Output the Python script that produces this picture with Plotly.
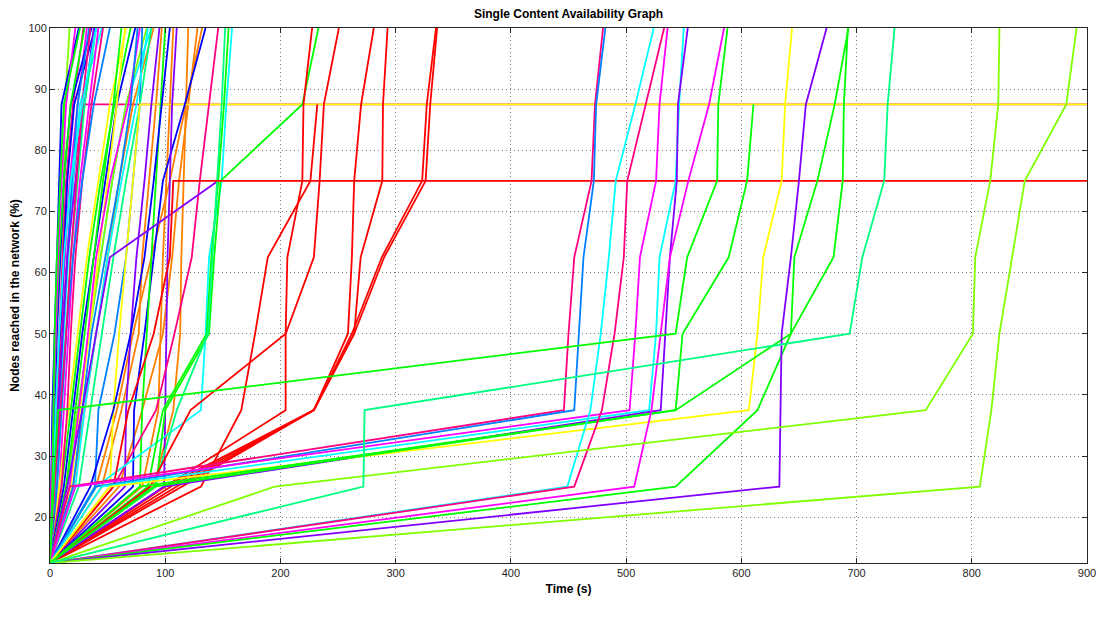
import plotly.graph_objects as go

# Levels of network coverage (%) reached in order by every content run
LEVELS = [12.5, 25, 37.5, 50, 62.5, 75, 87.5, 100]
END_TIME = 900  # runs that stop short of 100% are held flat until the end

X_TICKS = [0, 100, 200, 300, 400, 500, 600, 700, 800, 900]
Y_TICKS = [20, 30, 40, 50, 60, 70, 80, 90, 100]

# ---- time (s) at which each level was reached, one list per run ----
# fast runs on the left
s01 = [0, 3, 7, 10, 11, 12, 13, 17]
s02 = [0, 2, 5, 8, 11, 14, 20, 29]
s03 = [0, 3, 6, 9, 13, 17, 24, 32]
s04 = [0, 2, 4, 6, 9, 12, 18, 36]
s05 = [0, 4, 7, 9, 12, 15, 21, 39]
s06 = [0, 3, 6, 10, 15, 20, 29]          # held at 87.5
s07 = [0, 1, 3, 5, 8, 12, 18, 30]
s08 = [0, 5, 9, 12, 16, 20, 26, 45]
s09 = [0, 4, 8, 11, 15, 19, 24, 34]
s10 = [0, 3, 7, 11, 15, 22, 30, 38]
s11 = [0, 6, 10, 14, 18, 24, 30, 40]
s12 = [0, 8, 12, 16, 20, 26, 34, 42]
s13 = [0, 8, 16, 24, 32, 42, 52, 66]
s14 = [0, 10, 18, 26, 34, 44, 56, 70]
s15 = [0, 10, 15, 18, 22, 28, 36, 46]
s16 = [0, 15, 24, 34, 44, 54, 66, 88]
s17 = [0, 12, 20, 28, 38, 48, 58, 74]
s18 = [0, 14, 24, 34, 44, 54, 66, 84]
s19 = [0, 14, 22, 30, 38, 46, 55, 62]
s20 = [0, 18, 26, 34, 42, 50, 58, 65]
s21 = [0, 20, 30, 40, 50, 60, 72, 90]
s22 = [0, 17, 25, 33, 40, 52, 68, 78]
s23 = [0, 39, 42, 56, 66, 72, 78, 80]
s24 = [0, 20, 28, 36, 48, 60, 70, 76]
s25 = [0, 22, 30, 40, 50, 62, 75, 85]
s26 = [0, 25, 35, 45, 55, 66, 78, 88]
s27 = [0, 52, 55, 60, 66, 72, 78]         # held at 87.5
s28 = [0, 65, 66, 70, 75, 82, 88, 95]
s29 = [0, 72, 73, 82, 90, 98, 117, 135]
s30 = [0, 78, 80, 84, 88, 92, 96, 100]
s31 = [0, 45, 62, 77, 80, 86, 92, 97]
s32 = [0, 80, 94, 96, 98, 101, 104, 107]
s33 = [0, 90, 107, 113, 114, 116, 118, 120]
s34 = [0, 60, 80, 98, 106, 112, 120, 128]
s35 = [0, 40, 58, 72, 88, 104, 118, 132]
s36 = [0, 99, 100, 101, 102, 104, 106, 110]
s37 = [0, 35, 55, 70, 82, 90, 97, 104]
s38 = [0, 55, 92, 108, 123, 130, 138, 146]
s39 = [0, 15, 28, 40, 52, 146]           # stops at 75
s40 = [0, 40, 131, 135, 138, 149, 153, 158]
s41 = [0, 92, 100, 138, 142.5, 148, 219, 233]
s42 = [0, 85, 98, 136, 140, 146, 151, 155]
s43 = [0, 91, 110, 137, 141, 145, 149, 152]
s44 = [0, 55, 68, 90, 104, 107]          # held at 75
s45 = [0, 1, 2, 4, 6, 8, 10, 25]
s46 = [0, 1, 3, 5, 7, 10, 14, 22]
s47 = [0, 2, 3, 4, 6, 9, 12, 26]
s48 = [0, 6, 10, 14, 20, 28, 38, 52]
s49 = [0, 4, 9, 14, 18, 23, 28, 35]
s50 = [0, 3, 5, 8, 12, 18, 28, 40]
# red group (100 s - 340 s)
r01 = [0, 131, 166, 178, 189, 226, 232]   # stops at 87.5
r02 = [0, 100, 204.5, 204.5, 206, 219, 220, 227.5]
r03 = [0, 87, 122, 204.6, 229, 234, 237.7, 250.7]
r04 = [0, 105, 229, 258.6, 262, 264, 270, 281]
r05 = [0, 110, 229, 264, 269.6, 288.4, 289, 293]
r06 = [0, 100, 229, 262, 288, 323, 327, 335]
r07 = [0, 115, 229, 264, 290, 326, 330, 336]
# slow runs
m01 = [0, 17, 446, 450, 455, 470, 473, 480]
m02 = [0, 40, 455, 459, 463, 472, 474, 482]
m03 = [0, 22, 503, 508, 512, 526, 529, 536]
m04 = [0, 45, 520, 526, 529, 543, 546, 550]
m05 = [0, 99, 530, 534, 538, 544, 545, 553.5]
m06 = [0, 52, 606.5, 614, 619, 635, 638, 644]
m07 = [0, 78, 543, 549, 589, 605, 610.5]  # stops at 87.5
m08 = [0, 90, 543, 643, 680, 688, 689, 692.5]
m09 = [0, 449, 469, 478, 485, 491, 508, 524]
m10 = [0, 455, 479, 490, 498, 501, 517, 533]
m11 = [0, 507, 522, 530, 538, 554, 572, 585]
m12 = [0, 543, 614, 643, 646, 666, 681, 693]
m13 = [0, 633, 634, 635, 643, 650, 656, 674]
m14 = [0, 807, 817, 824, 835, 846, 882, 891]
m15 = [0, 195, 760, 801, 803, 816, 823, 824]
m16 = [0, 272, 273, 694, 705, 724, 727, 733]
m17 = [0, 3, 7, 543, 553, 579, 580, 588]

PALETTE = {
    "red": "#FF0000", "orange": "#FF8000", "yellow": "#FFFF00", "chart": "#80FF00",
    "green": "#00FF00", "spring": "#00FF80", "cyan": "#00FFFF", "dodger": "#0080FF",
    "blue": "#0000FF", "purple": "#8000FF", "magenta": "#FF00FF", "pink": "#FF0080",
}

# (run, colour, held-until-end)
RUNS = [
    (s34, "orange", False), (s35, "orange", False), (s31, "orange", False),
    (s32, "orange", False), (s33, "orange", False),
    (s01, "chart", False), (s02, "pink", False), (s03, "magenta", False),
    (s04, "blue", False), (s05, "blue", False), (s06, "pink", True),
    (s07, "green", False), (s08, "cyan", False), (s09, "dodger", False),
    (s10, "purple", False), (s11, "spring", False), (s12, "magenta", False),
    (s13, "yellow", False), (s14, "green", False), (s15, "pink", False),
    (s16, "cyan", False), (s17, "blue", False), (s18, "chart", False),
    (s19, "green", False), (s20, "yellow", False), (s21, "orange", False),
    (s22, "magenta", False), (s23, "dodger", False), (s24, "dodger", False),
    (s25, "cyan", False), (s26, "spring", False), (s27, "yellow", True),
    (s28, "purple", False), (s29, "blue", False), (s30, "green", False),
    (s36, "purple", False), (s37, "blue", False), (s38, "pink", False),
    (s39, "purple", False), (s40, "cyan", False), (s41, "green", False),
    (s42, "green", False), (s43, "spring", False), (s44, "red", True),
    (s45, "blue", False), (s46, "magenta", False), (s47, "green", False),
    (s48, "dodger", False), (s49, "pink", False), (s50, "cyan", False),
    (r01, "red", False), (r02, "red", False), (r03, "red", False),
    (r04, "red", False), (r05, "red", False), (r06, "red", False), (r07, "red", False),
    (m01, "pink", False), (m02, "dodger", False), (m03, "magenta", False),
    (m04, "cyan", False), (m05, "purple", False), (m06, "yellow", False),
    (m07, "green", False), (m08, "green", False), (m09, "cyan", False),
    (m10, "pink", False), (m11, "magenta", False), (m12, "green", False),
    (m13, "purple", False), (m14, "chart", False), (m15, "chart", False),
    (m16, "spring", False), (m17, "green", False),
]

fig = go.Figure()
for times, colour, held in RUNS:
    xs = list(times)
    ys = LEVELS[:len(times)]
    if held:
        xs = xs + [END_TIME]
        ys = ys + [ys[-1]]
    fig.add_trace(go.Scatter(
        x=xs, y=ys, mode="lines",
        line=dict(color=PALETTE[colour], width=1.8),
        showlegend=False, hoverinfo="skip",
    ))

FONT = "Liberation Sans, Arial, Helvetica, sans-serif"
axis_common = dict(
    showline=True, linecolor="#262626", linewidth=1, mirror="allticks",
    ticks="inside", ticklen=5, tickcolor="#262626", automargin=False,
    showgrid=True, gridcolor="#7a7a7a", griddash="1px,3px", gridwidth=1,
    zeroline=False, tickfont=dict(family=FONT, size=11, color="#262626"),
)

W, H = 1098, 630
L, R, T, B = 50, 11, 28, 67
fig.update_layout(
    width=W, height=H,
    margin=dict(l=L, r=R, t=T, b=B),
    paper_bgcolor="white", plot_bgcolor="white",
    title=dict(text="<b>Single Content Availability Graph</b>",
               x=(L + (W - R)) / 2 / W, xanchor="center", y=1 - 14 / H, yanchor="middle",
               font=dict(family=FONT, size=12, color="black")),
    xaxis=dict(range=[0, 900], tickvals=X_TICKS,
               title=dict(text="<b>Time (s)</b>", font=dict(family=FONT, size=12, color="black"),
                          standoff=6),
               **axis_common),
    yaxis=dict(range=[12.5, 100], tickvals=Y_TICKS,
               title=dict(text="<b>Nodes reached in the network (%)</b>",
                          font=dict(family=FONT, size=12, color="black"), standoff=6),
               **axis_common),
)

# drop the page's default body margin so the canvas sits at the window origin
fig.write_html(
    "out.html",
    config={"displayModeBar": False},
    post_script="document.body.style.margin='0';document.body.style.overflow='hidden';",
)
